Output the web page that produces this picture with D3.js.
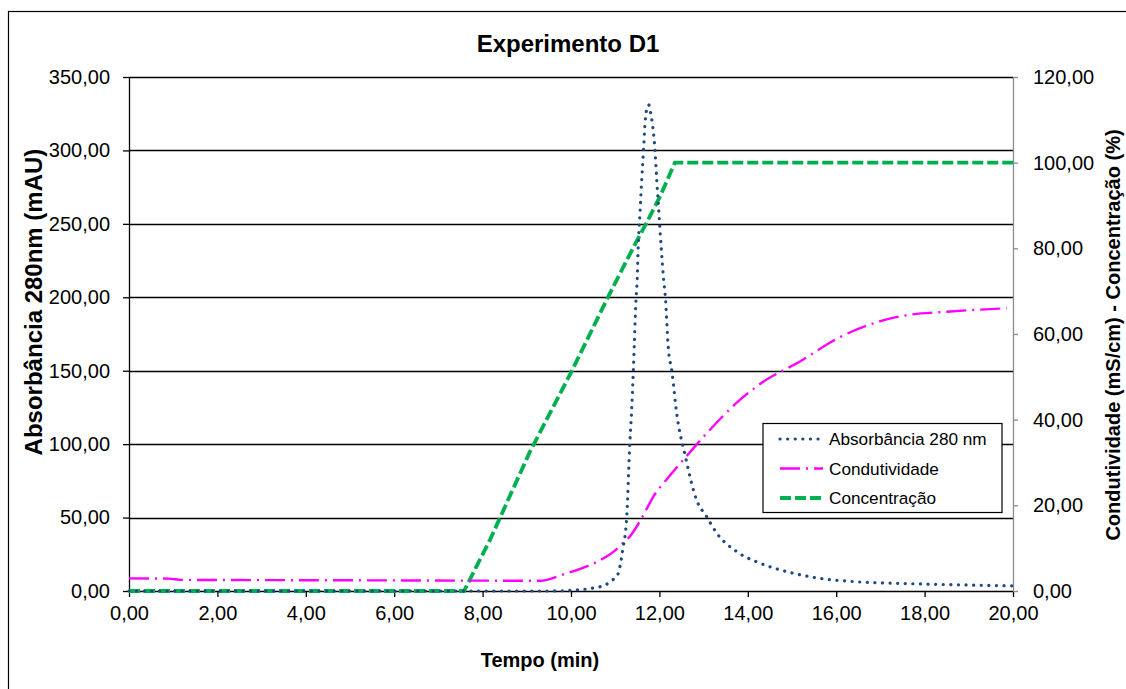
<!DOCTYPE html>
<html>
<head>
<meta charset="utf-8">
<script src="https://cdn.jsdelivr.net/npm/d3@7"></script>
<style>
  html, body { margin: 0; padding: 0; background: #fff; }
  svg { display: block; font-family: "Liberation Sans", Arial, sans-serif; }
</style>
</head>
<body>
<svg id="chart" width="1126" height="689"></svg>
<script>
// Elution profile, experiment D1
const tempo = [0, 9.5, 10.0, 10.5, 10.8, 10.96, 11.07, 11.11, 11.17, 11.26, 11.33, 11.37, 11.41, 11.43, 11.47, 11.50, 11.52, 11.56, 11.60, 11.64, 11.67, 11.70, 11.76, 11.80, 11.85, 11.90, 11.94, 11.99, 12.04, 12.09, 12.14, 12.20, 12.28, 12.40, 12.58, 12.84, 13.07, 13.30, 13.75, 14.28, 14.88, 15.63, 16.39, 17.44, 18.95, 20.0];
const absorbancia = [0, 0, 0.5, 2, 4.5, 8, 12, 17, 28, 50, 100, 122, 150, 166, 198, 214, 234, 257, 280, 300, 316, 326, 331, 326, 316, 300, 280, 257, 234, 214, 198, 166, 150, 119, 92.6, 62, 50.6, 39.3, 26.8, 18.9, 13.2, 8.6, 6.4, 5.2, 4.1, 3.5];

const tempoCond = [0, 0.9, 1.2, 5.0, 9.3, 9.83, 10.3, 10.66, 11.0, 11.18, 11.33, 11.6, 11.86, 12.2, 12.54, 13.14, 13.82, 14.3, 15.18, 16.09, 17.0, 17.6, 18.5, 19.86];
const condutividade = [2.95, 2.9, 2.6, 2.5, 2.4, 3.9, 5.5, 7.2, 9.5, 11.3, 12.7, 17, 22, 26.5, 30.6, 37.6, 44.6, 48.5, 53.6, 59.3, 63.0, 64.4, 65.2, 66.0];

const tempoConc = [0, 7.58, 8.17, 9.07, 10.0, 10.88, 11.45, 11.71, 12.01, 12.35, 20.0];
const concentracao = [0, 0, 12, 32.5, 51, 69.5, 81, 86, 92, 100, 100];

const xTicks = [0, 2, 4, 6, 8, 10, 12, 14, 16, 18, 20];
const yLeftTicks = [0, 50, 100, 150, 200, 250, 300, 350];
const yRightTicks = [0, 20, 40, 60, 80, 100, 120];

const seriesNames = ["Absorbância 280 nm", "Condutividade", "Concentração"];

const fmt = v => d3.format(".2f")(v).replace(".", ",");

const svg = d3.select("#chart");
const m = { left: 129, right: 1013, top: 77, bottom: 591 };

const x = d3.scaleLinear().domain([0, 20]).range([m.left, m.right]);
const yL = d3.scaleLinear().domain([0, 350]).range([m.bottom, m.top]);
const yR = d3.scaleLinear().domain([0, 120]).range([m.bottom, m.top]);

// outer frame
svg.append("rect").attr("x", 8.5).attr("y", 11.5).attr("width", 1200).attr("height", 800)
  .attr("fill", "none").attr("stroke", "#000").attr("stroke-width", 1.2);

// horizontal gridlines
svg.append("g").selectAll("line").data(yLeftTicks.filter(d => d > 0)).join("line")
  .attr("x1", m.left).attr("x2", m.right)
  .attr("y1", d => Math.round(yL(d)) + 0.5).attr("y2", d => Math.round(yL(d)) + 0.5)
  .attr("stroke", "#000").attr("stroke-width", 1.3);

// axes
const gx = svg.append("g").attr("transform", `translate(0,${m.bottom})`)
  .call(d3.axisBottom(x).tickValues(xTicks).tickFormat(fmt).tickSize(6).tickSizeOuter(0).tickPadding(6));
const gl = svg.append("g").attr("transform", `translate(${m.left},0)`)
  .call(d3.axisLeft(yL).tickValues(yLeftTicks).tickFormat(fmt).tickSize(6).tickSizeOuter(0).tickPadding(13));
const gr = svg.append("g").attr("transform", `translate(${m.right},0)`)
  .call(d3.axisRight(yR).tickValues(yRightTicks).tickFormat(fmt).tickSize(5).tickSizeOuter(0).tickPadding(15));

[gx, gl, gr].forEach(g => {
  g.selectAll("text").attr("font-size", 20).attr("fill", "#000")
    .attr("font-family", "'Liberation Sans', Arial, sans-serif");
  g.selectAll("path, line").attr("stroke-width", 1.3);
});
gx.selectAll("path, line").attr("stroke", "#000");
gl.selectAll("path, line").attr("stroke", "#000");
gr.selectAll("path, line").attr("stroke", "#8c8c8c");
gx.selectAll("text").attr("dy", "0.85em");

// series
const lineAbs = d3.line().x(d => x(d[0])).y(d => yL(d[1])).curve(d3.curveMonotoneX);
const lineR = d3.line().x(d => x(d[0])).y(d => yR(d[1])).curve(d3.curveMonotoneX);

const concData = d3.zip(tempoConc, concentracao);
const condData = d3.zip(tempoCond, condutividade);
const absData = d3.zip(tempo, absorbancia);

const styles = [
  { color: "#1f4a80", width: 3.2, dash: "0.1 7.5", cap: "round" },
  { color: "#ff00ff", width: 2.4, dash: "20 6 2 6", cap: "butt" },
  { color: "#00b050", width: 3.8, dash: "11 4", cap: "butt" }
];

svg.append("path").datum(concData).attr("d", d3.line().x(d => x(d[0])).y(d => yR(d[1])))
  .attr("fill", "none").attr("stroke", styles[2].color).attr("stroke-width", styles[2].width)
  .attr("stroke-dasharray", styles[2].dash);
svg.append("path").datum(condData).attr("d", lineR)
  .attr("fill", "none").attr("stroke", styles[1].color).attr("stroke-width", styles[1].width)
  .attr("stroke-dasharray", styles[1].dash);
svg.append("path").datum(absData).attr("d", lineAbs)
  .attr("fill", "none").attr("stroke", styles[0].color).attr("stroke-width", styles[0].width)
  .attr("stroke-dasharray", styles[0].dash).attr("stroke-linecap", styles[0].cap);

// legend
const lg = svg.append("g");
lg.append("rect").attr("x", 763).attr("y", 423.5).attr("width", 239).attr("height", 89)
  .attr("fill", "#fff").attr("stroke", "#000").attr("stroke-width", 1.2);
seriesNames.forEach((name, i) => {
  const yy = 439 + i * 29.5;
  lg.append("line").attr("x1", 780).attr("x2", 823).attr("y1", yy).attr("y2", yy)
    .attr("stroke", styles[i].color).attr("stroke-width", styles[i].width)
    .attr("stroke-dasharray", styles[i].dash).attr("stroke-linecap", styles[i].cap);
  lg.append("text").attr("x", 829).attr("y", yy + 6).attr("font-size", 17.2).text(name);
});

// titles
svg.append("text").attr("x", 568).attr("y", 52).attr("text-anchor", "middle")
  .attr("font-size", 24).attr("font-weight", "bold").text("Experimento D1");
svg.append("text").attr("x", 540).attr("y", 667).attr("text-anchor", "middle")
  .attr("font-size", 20).attr("font-weight", "bold").text("Tempo (min)");
svg.append("text").attr("transform", "translate(42,302) rotate(-90)").attr("text-anchor", "middle")
  .attr("font-size", 24).attr("font-weight", "bold").text("Absorbância 280nm (mAU)");
svg.append("text").attr("transform", "translate(1120,335) rotate(-90)").attr("text-anchor", "middle")
  .attr("font-size", 20).attr("font-weight", "bold").text("Condutividade (mS/cm) - Concentração (%)");
</script>
</body>
</html>
